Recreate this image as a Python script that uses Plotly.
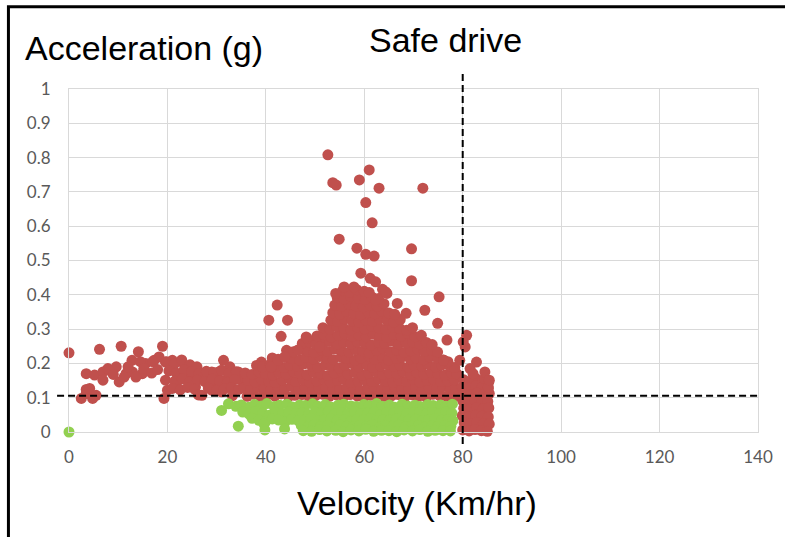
import plotly.graph_objects as go

# ---------------- axis ticks ----------------
x_ticks = [0, 20, 40, 60, 80, 100, 120, 140]
x_tick_labels = ["0", "20", "40", "60", "80", "100", "120", "140"]
y_ticks = [0, 0.1, 0.2, 0.3, 0.4, 0.5, 0.6, 0.7, 0.8, 0.9, 1]
y_tick_labels = ["0", "0.1", "0.2", "0.3", "0.4", "0.5", "0.6", "0.7", "0.8", "0.9", "1"]

# safe-drive thresholds (dashed lines)
safe_velocity_limit = 80
safe_accel_limit = 0.106

# ---------------- data: (velocity km/h, acceleration g) ----------------
# red: unsafe drive points, low-speed tail
red_tail = [
    (0, 0.231), (2.5, 0.098), (3.5, 0.112), (3.5, 0.124), (4.2, 0.127), (4.8, 0.098), (5.5, 0.107),
    (3.5, 0.170), (5.2, 0.166), (6.2, 0.241), (6.9, 0.175), (6.9, 0.151), (7.9, 0.185), (9.6, 0.190),
    (10.2, 0.146), (10.6, 0.250), (11.6, 0.170), (12.8, 0.209), (12.9, 0.175), (14.1, 0.234),
    (14.9, 0.170), (15.6, 0.200), (17.3, 0.209), (18.3, 0.219), (19.0, 0.250), (19.3, 0.098),
    (19.6, 0.204), (19.6, 0.151), (20.0, 0.122), (21.0, 0.209), (22.3, 0.151), (23.0, 0.204),
    (23.7, 0.180), (24.3, 0.161), (25.0, 0.190), (25.7, 0.131), (27.0, 0.107), (27.7, 0.161),
    (29.0, 0.175), (29.7, 0.141), (29.0, 0.122), (30.4, 0.175), (31.0, 0.117), (31.4, 0.209),
    (31.7, 0.151), (32.7, 0.190), (33.7, 0.161), (34.4, 0.175), (35.1, 0.151), (35.8, 0.131),
    (37.1, 0.131), (38.4, 0.141), (39.1, 0.204),
    (8.2, 0.180), (9.0, 0.168), (11.2, 0.160), (12.0, 0.190), (13.6, 0.160), (14.5, 0.205),
    (15.2, 0.185), (16.8, 0.172), (17.0, 0.205), (18.0, 0.182),
    (19.8, 0.205), (21.4, 0.198), (22.9, 0.210), (24.6, 0.196), (26.0, 0.190),
    (20.3, 0.178), (21.8, 0.172), (23.4, 0.181), (24.9, 0.176), (26.4, 0.170), (27.9, 0.177),
    (29.5, 0.173), (31.0, 0.180), (32.5, 0.171), (34.0, 0.176),
    (21.5, 0.148), (23.0, 0.155), (24.5, 0.146), (26.1, 0.151), (27.6, 0.147), (29.1, 0.154),
    (30.6, 0.149), (32.2, 0.145), (33.7, 0.153),
    (21.0, 0.127), (22.6, 0.123), (24.1, 0.130), (25.5, 0.125), (28.3, 0.128), (30.0, 0.122),
    (31.5, 0.126), (33.0, 0.129), (34.5, 0.124), (26.3, 0.108), (33.2, 0.106),
]

# red: dense main cloud
red_core = [
    (36.2, .104), (37.5, .110), (39.0, .102), (40.3, .108), (41.8, .105), (43.1, .111), (44.6, .103),
    (45.9, .107), (47.3, .109), (48.8, .102), (50.1, .106), (51.6, .110), (52.9, .104), (54.3, .108),
    (55.8, .103), (57.1, .109), (58.6, .105), (59.9, .102), (61.3, .107), (62.8, .110), (64.1, .104),
    (65.6, .106), (66.9, .109), (68.3, .103), (69.8, .108), (71.1, .105), (72.6, .102), (73.9, .110),
    (75.3, .106), (76.8, .104), (78.1, .108), (79.0, .105),
    (35.5, .128), (36.9, .124), (38.3, .131), (39.7, .126), (41.0, .122), (42.5, .129), (43.8, .127),
    (45.2, .133), (46.7, .125), (48.0, .130), (49.5, .123), (50.8, .128), (52.2, .132), (53.7, .126),
    (55.0, .124), (56.5, .130), (57.8, .127), (59.2, .122), (60.7, .129), (62.0, .133), (63.5, .125),
    (64.8, .128), (66.2, .131), (67.7, .124), (69.0, .127), (70.5, .130), (71.8, .123), (73.2, .129),
    (74.7, .126), (76.0, .132), (77.5, .125), (78.6, .128),
    (36.4, .150), (37.8, .146), (39.1, .153), (40.6, .148), (41.9, .144), (43.3, .151), (44.8, .155),
    (46.1, .147), (47.6, .152), (48.9, .145), (50.3, .149), (51.8, .154), (53.1, .146), (54.6, .150),
    (55.9, .153), (57.3, .144), (58.8, .148), (60.1, .152), (61.6, .147), (62.9, .155), (64.3, .149),
    (65.8, .145), (67.1, .151), (68.6, .148), (69.9, .154), (71.3, .146), (72.8, .150), (74.1, .153),
    (75.6, .147), (76.9, .149), (78.3, .152),
    (35.8, .172), (37.2, .168), (38.6, .175), (39.9, .170), (41.4, .166), (42.7, .173), (44.1, .169),
    (45.6, .176), (46.9, .171), (48.4, .167), (49.7, .174), (51.1, .170), (52.6, .165), (53.9, .172),
    (55.4, .177), (56.7, .169), (58.1, .173), (59.6, .166), (60.9, .171), (62.4, .175), (63.7, .168),
    (65.1, .172), (66.6, .170), (67.9, .176), (69.4, .167), (70.7, .173), (72.1, .169), (73.6, .174),
    (74.9, .171), (76.4, .166), (77.7, .172), (78.8, .170),
    (38.1, .194), (39.3, .190), (40.9, .197), (42.1, .192), (43.7, .188), (44.9, .195), (46.5, .191),
    (47.7, .198), (49.3, .193), (50.5, .189), (52.1, .196), (53.3, .192), (54.9, .187), (56.1, .194),
    (57.7, .199), (58.9, .190), (60.5, .195), (61.7, .188), (63.3, .193), (64.5, .197), (66.1, .191),
    (67.3, .194), (68.9, .189), (70.1, .196), (71.7, .192), (72.9, .198), (74.5, .190), (75.7, .195),
    (77.3, .193), (78.4, .188),
    (41.3, .216), (42.5, .212), (44.1, .219), (45.3, .214), (46.9, .210), (48.1, .217), (49.7, .213),
    (50.9, .220), (52.5, .215), (53.7, .211), (55.3, .218), (56.5, .214), (58.1, .209), (59.3, .216),
    (60.9, .221), (62.1, .212), (63.7, .217), (64.9, .210), (66.5, .215), (67.7, .219), (69.3, .213),
    (70.5, .216), (72.1, .211), (73.3, .218), (74.9, .214), (76.1, .210), (77.0, .205),
    (44.2, .238), (45.6, .234), (47.0, .241), (48.5, .236), (49.8, .232), (51.3, .239), (52.6, .235),
    (54.1, .242), (55.4, .237), (56.9, .233), (58.2, .240), (59.7, .236), (61.0, .231), (62.5, .238),
    (63.8, .243), (65.3, .234), (66.6, .239), (68.1, .232), (69.4, .237), (70.9, .241), (72.2, .235),
    (73.7, .238), (74.9, .233),
    (47.4, .258), (48.9, .262), (50.2, .255), (51.7, .260), (53.0, .264), (54.5, .257), (55.8, .261),
    (57.3, .256), (58.6, .263), (60.1, .259), (61.4, .254), (62.9, .262), (64.2, .258), (65.7, .265),
    (67.0, .256), (68.5, .260), (69.8, .263), (71.3, .257), (72.6, .261), (73.8, .255),
    (50.4, .280), (51.8, .284), (53.3, .277), (54.7, .282), (56.1, .286), (57.5, .279), (58.9, .283),
    (60.4, .278), (61.8, .285), (63.2, .281), (64.6, .276), (66.0, .284), (67.5, .280), (68.9, .287),
    (70.3, .278), (71.6, .282),
    (51.6, .304), (53.0, .300), (54.4, .307), (55.9, .302), (57.3, .298), (58.7, .305), (60.1, .301),
    (61.5, .308), (63.0, .303), (64.4, .299), (65.8, .306), (67.2, .302), (68.6, .297), (69.8, .304),
    (53.2, .326), (54.6, .322), (56.0, .329), (57.5, .324), (58.9, .320), (60.3, .327), (61.7, .323),
    (63.1, .330), (64.6, .325), (66.0, .321), (67.3, .328),
    (53.6, .348), (55.0, .344), (56.5, .351), (57.9, .346), (59.3, .342), (60.8, .349), (62.2, .345),
    (63.6, .352), (65.0, .347), (66.2, .343),
    (54.0, .370), (55.4, .366), (56.9, .373), (58.3, .368), (59.8, .364), (61.2, .371), (62.6, .367),
    (64.0, .374),
    (54.5, .392), (55.9, .388), (57.3, .395), (58.8, .390), (60.2, .386), (61.6, .393), (62.9, .389),
    (55.6, .412), (57.0, .408), (58.5, .415), (60.0, .410), (61.0, .407),
]

# red: over-speed column (>= 80 km/h)
red_column = [
    (80.2, .152), (81.5, .148), (82.8, .155), (84.1, .150), (85.3, .146),
    (79.9, .131), (81.2, .128), (82.6, .134), (83.9, .129), (85.2, .126),
    (80.3, .111), (81.6, .108), (82.9, .114), (84.2, .109), (85.4, .112),
    (80.0, .091), (81.3, .087), (82.5, .090), (83.8, .086), (85.1, .089),
    (80.2, .069), (81.5, .066), (82.8, .071), (84.1, .067), (85.3, .070),
    (79.9, .048), (81.2, .045), (82.6, .049), (83.9, .046), (85.2, .044),
    (80.3, .027), (81.6, .024), (82.9, .028), (84.2, .025), (85.4, .023),
    (80.0, .006), (81.3, .003), (82.5, .007), (83.8, .004), (85.0, .002),
]

# red: scattered high-acceleration points
red_outliers = [
    (52.6, 0.808), (61.0, 0.764), (54.3, 0.720), (53.6, 0.727), (59.0, 0.735), (63.0, 0.711),
    (71.9, 0.711), (60.3, 0.669), (61.6, 0.610), (54.9, 0.562), (58.5, 0.536), (60.3, 0.518),
    (62.0, 0.513), (69.6, 0.534), (59.3, 0.463), (61.2, 0.448), (62.3, 0.438), (69.6, 0.441),
    (63.7, 0.416), (64.6, 0.404), (75.2, 0.394), (54.2, 0.404), (55.9, 0.423), (57.9, 0.423),
    (42.3, 0.370), (40.6, 0.326), (44.4, 0.326), (72.3, 0.355), (68.5, 0.346), (74.9, 0.317),
    (62.3, 0.385), (66.7, 0.375), (64.3, 0.409), (48.4, 0.273), (50.9, 0.248), (80.8, 0.282),
    (80.1, 0.263), (76.8, 0.268), (76.1, 0.209), (82.8, 0.204), (81.5, 0.185), (84.5, 0.156),
    (85.2, 0.131), (46.5, 0.239), (43.1, 0.279), (48.2, 0.277), (41.1, 0.190), (42.5, 0.209),
    (43.8, 0.219), (80.5, 0.248), (79.4, 0.209), (82.1, 0.170), (84.5, 0.175), (85.4, 0.151),
]

# green: safe drive points
green_points = [
    (0, 0.0), (31.0, 0.063), (34.4, 0.017),
    (32.4, .082), (33.9, .075), (35.0, .079), (36.5, .072), (37.7, .080), (39.1, .076), (40.2, .083),
    (41.7, .074), (42.8, .078), (44.3, .081), (45.4, .073), (46.9, .079), (48.0, .077), (49.5, .082),
    (50.6, .075), (52.1, .080), (53.2, .073), (54.7, .078), (55.8, .081), (57.3, .076), (58.4, .074),
    (59.9, .080), (61.0, .077), (62.5, .083), (63.6, .075), (65.1, .079), (66.2, .072), (67.7, .081),
    (68.8, .076), (70.3, .078), (71.4, .074), (72.9, .080), (74.0, .077), (75.5, .079), (76.6, .075),
    (77.9, .081),
    (35.3, .058), (36.6, .052), (38.0, .060), (39.4, .055), (40.7, .049), (42.0, .057), (43.4, .053),
    (44.7, .059), (46.0, .054), (47.4, .056), (48.7, .051), (50.0, .058), (51.3, .055), (52.7, .060),
    (54.0, .052), (55.4, .057), (56.7, .054), (58.0, .059), (59.3, .053), (60.7, .056), (62.0, .058),
    (63.3, .051), (64.6, .057), (66.0, .055), (67.3, .060), (68.6, .053), (70.0, .056), (71.3, .058),
    (72.6, .052), (74.0, .057), (75.3, .054), (76.6, .059), (77.8, .055),
    (37.2, .040), (38.6, .034), (40.0, .031), (41.3, .038), (42.6, .035), (43.9, .029), (45.3, .037),
    (46.6, .033), (47.9, .036), (49.2, .039), (50.6, .032), (51.9, .035), (53.2, .038), (54.5, .034),
    (55.9, .036), (57.2, .031), (58.5, .037), (59.8, .035), (61.2, .039), (62.5, .033), (63.8, .036),
    (65.1, .034), (66.5, .038), (67.8, .032), (69.1, .035), (70.4, .037), (71.8, .033), (73.1, .036),
    (74.4, .039), (75.7, .034), (77.0, .036), (78.0, .033),
    (39.6, .024), (47.2, .019), (48.5, .015), (49.8, .021), (51.1, .016), (52.5, .018), (53.8, .013),
    (55.1, .020), (56.4, .017), (57.8, .015), (59.1, .019), (60.4, .016), (61.7, .021), (63.1, .014),
    (64.4, .018), (65.7, .016), (67.0, .020), (68.4, .015), (69.7, .017), (71.0, .019), (72.3, .014),
    (73.7, .018), (75.0, .016), (76.3, .020), (77.6, .017),
    (39.8, .006), (43.8, .009), (47.6, .004), (49.3, .002), (50.9, .007), (52.4, .003), (54.2, .005),
    (55.7, .001), (57.3, .006), (58.9, .003), (60.3, .008), (61.9, .002), (63.5, .005), (65.0, .004),
    (66.6, .001), (68.1, .006), (69.8, .003), (71.3, .007), (72.9, .002), (74.4, .005), (76.0, .004),
    (77.5, .003),
]

red_points = red_tail + red_core + red_column + red_outliers

RED = "#C0504D"
GREEN = "#92D050"
GRID = "#D9D9D9"
TICK_FONT = dict(family="Lato, 'Open Sans', sans-serif", size=17, color="#595959")
TITLE_FONT = dict(family="'Liberation Sans', Arial, sans-serif", size=34, color="#000000")

fig = go.Figure()
fig.add_trace(go.Scatter(
    x=[p[0] for p in red_points], y=[p[1] for p in red_points],
    mode="markers", marker=dict(color=RED, size=11, line=dict(width=0)),
    cliponaxis=False, showlegend=False, hoverinfo="skip"))
fig.add_trace(go.Scatter(
    x=[p[0] for p in green_points], y=[p[1] for p in green_points],
    mode="markers", marker=dict(color=GREEN, size=11, line=dict(width=0)),
    cliponaxis=False, showlegend=False, hoverinfo="skip"))

fig.update_layout(
    width=785, height=537,
    margin=dict(l=69, r=22, t=89, b=105, pad=0),
    paper_bgcolor="white", plot_bgcolor="white",
    showlegend=False,
    xaxis=dict(range=[0, 140], tickvals=x_ticks, ticktext=x_tick_labels,
               showgrid=True, gridcolor=GRID, gridwidth=1, zeroline=False,
               showline=True, linecolor=GRID, linewidth=1, mirror=True,
               ticks="", ticklabelstandoff=10, tickfont=TICK_FONT, fixedrange=True),
    yaxis=dict(range=[0, 1], tickvals=y_ticks, ticktext=y_tick_labels,
               showgrid=True, gridcolor=GRID, gridwidth=1, zeroline=False,
               showline=True, linecolor=GRID, linewidth=1, mirror=True,
               ticks="", ticklabelstandoff=14, tickfont=TICK_FONT, fixedrange=True),
)

# dashed threshold lines
fig.add_shape(type="line", xref="x", yref="paper",
              x0=safe_velocity_limit, x1=safe_velocity_limit, y0=-0.035, y1=1.0525,
              line=dict(color="black", width=2, dash="7px,4px"), layer="above")
fig.add_shape(type="line", xref="paper", yref="y",
              x0=-0.0173, x1=1.0043, y0=safe_accel_limit, y1=safe_accel_limit,
              line=dict(color="black", width=2, dash="7px,4px"), layer="above")

# outer frame (partially cropped in the reference)
fig.add_shape(type="rect", xref="paper", yref="paper",
              x0=-0.0879, x1=1.06, y0=-0.41, y1=1.24,
              line=dict(color="black", width=3), fillcolor="rgba(0,0,0,0)", layer="above")

# titles
fig.add_annotation(text="Acceleration (g)", xref="paper", yref="paper", x=-0.0663, y=1.119,
                   xanchor="left", yanchor="middle", showarrow=False, font=TITLE_FONT)
fig.add_annotation(text="Safe drive", xref="paper", yref="paper", x=0.546, y=1.143,
                   xanchor="center", yanchor="middle", showarrow=False, font=TITLE_FONT)
fig.add_annotation(text="Velocity (Km/hr)", xref="paper", yref="paper", x=0.5053, y=-0.2076,
                   xanchor="center", yanchor="middle", showarrow=False, font=TITLE_FONT)

fig.write_html("out.html", config={"displayModeBar": False, "staticPlot": True},
               post_script="document.body.style.margin='0';document.body.style.overflow='hidden';")
